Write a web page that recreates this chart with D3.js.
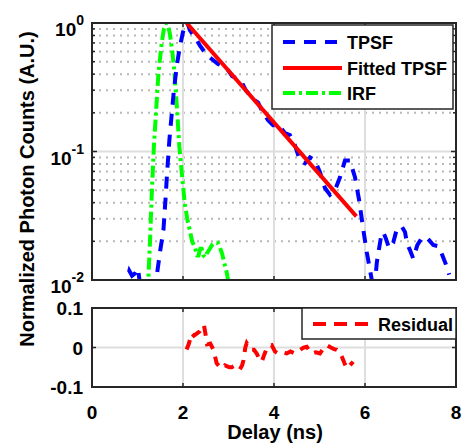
<!DOCTYPE html>
<html><head><meta charset="utf-8">
<script src="https://cdn.jsdelivr.net/npm/d3@7"></script>
<style>
html,body{margin:0;padding:0;background:#fff;}
text{font-family:"Liberation Sans",Arial,Helvetica,sans-serif;fill:#000;}
</style></head>
<body>
<svg id="c" width="463" height="443"></svg>
<script>
// ---- data ----
const tpsfT = [0.72,0.76,0.82,0.88,0.95,1.01,1.06,1.15,1.30,1.40,1.44,1.50,1.57,1.62,1.65,1.70,1.75,1.80,1.86,1.93,2.00,2.06,2.10,2.15,2.28,2.37,2.48,2.59,2.77,2.88,2.99,3.08,3.19,3.30,3.38,3.52,3.65,3.76,3.87,3.98,4.11,4.24,4.35,4.46,4.57,4.68,4.79,4.90,5.01,5.12,5.23,5.34,5.45,5.56,5.67,5.78,5.87,5.96,6.04,6.13,6.20,6.26,6.35,6.40,6.46,6.53,6.62,6.70,6.81,6.88,6.92,6.99,7.06,7.15,7.24,7.32,7.41,7.50,7.61,7.70,7.79,7.85];
const tpsfV = [0.008,0.0098,0.0118,0.0108,0.0113,0.0123,0.0090,0.007,0.007,0.0095,0.0119,0.017,0.0244,0.045,0.068,0.122,0.192,0.30,0.456,0.653,0.85,0.98,1.0,0.88,0.76,0.67,0.59,0.54,0.48,0.46,0.43,0.386,0.37,0.34,0.30,0.26,0.24,0.20,0.175,0.16,0.16,0.139,0.134,0.112,0.085,0.081,0.09,0.085,0.069,0.052,0.046,0.05,0.063,0.085,0.085,0.063,0.042,0.025,0.0164,0.0109,0.008,0.0137,0.0215,0.0236,0.021,0.0177,0.0195,0.025,0.026,0.0236,0.0194,0.017,0.0147,0.0187,0.021,0.0217,0.0204,0.0187,0.0183,0.0156,0.0129,0.011];
const fitT = [2.08, 5.81];
const fitV = [1.0, 0.0313];
const irfT = [1.20,1.24,1.28,1.31,1.36,1.41,1.46,1.53,1.58,1.63,1.67,1.71,1.76,1.80,1.84,1.87,1.92,1.97,2.04,2.10,2.15,2.20,2.26,2.31,2.34,2.38,2.41,2.45,2.49,2.52,2.59,2.65,2.70,2.76,2.81,2.86,2.92,2.96,3.00,3.03];
const irfV = [0.008,0.0105,0.022,0.044,0.109,0.21,0.405,0.69,0.9,1.0,0.95,0.83,0.62,0.456,0.3,0.21,0.109,0.07,0.039,0.029,0.0244,0.02,0.018,0.0155,0.0155,0.0175,0.0175,0.0155,0.015,0.016,0.0175,0.019,0.0195,0.0195,0.018,0.016,0.013,0.0115,0.0095,0.008];
const resT = [2.08,2.13,2.19,2.24,2.30,2.36,2.41,2.46,2.50,2.53,2.60,2.67,2.74,2.80,2.85,2.92,2.96,3.02,3.07,3.15,3.25,3.30,3.33,3.37,3.40,3.46,3.51,3.56,3.62,3.68,3.73,3.78,3.84,3.90,3.95,4.02,4.09,4.18,4.28,4.36,4.46,4.52,4.57,4.65,4.72,4.78,4.83,4.92,5.01,5.09,5.16,5.25,5.32,5.38,5.44,5.49,5.55,5.60,5.67,5.74];
const resV = [-0.005,0.01,0.036,0.03,0.035,0.04,0.049,0.057,0.03,0.008,0.01,-0.006,-0.04,-0.048,-0.053,-0.045,-0.047,-0.05,-0.05,-0.045,-0.055,-0.045,-0.032,0.0,0.011,0.0,-0.006,-0.006,-0.015,-0.03,-0.036,-0.02,-0.002,0.004,0.006,-0.01,-0.015,-0.012,-0.015,-0.01,-0.015,-0.01,-0.006,0.0,0.002,-0.008,-0.015,-0.012,-0.015,-0.002,0.006,0.0,-0.004,-0.006,-0.012,-0.023,-0.04,-0.053,-0.045,-0.036];
const xTicks = [0,2,4,6,8];
const yTopTicks = [1,0.1,0.01];
const yTopExp = ["0","-1","-2"];
const yBotTicks = [0.1,0,-0.1];
const yBotLabels = ["0.1","0","-0.1"];
const legendTop = ["TPSF","Fitted TPSF","IRF"];
const legendBot = ["Residual"];

// ---- layout ----
const svg = d3.select("#c");
const L = 92, R = 456;
const T1 = 23, B1 = 280, T2 = 308, B2 = 387;
const x = d3.scaleLinear().domain([0,8]).range([L,R]);
const y1 = d3.scaleLog().domain([0.01,1]).range([B1,T1]);
const y2 = d3.scaleLinear().domain([-0.1,0.1]).range([B2,T2]);
const frame = "#262626";

const defs = svg.append("defs");
defs.append("clipPath").attr("id","cp1").append("rect").attr("x",L).attr("y",T1).attr("width",R-L).attr("height",B1-T1);
defs.append("clipPath").attr("id","cp2").append("rect").attr("x",L).attr("y",T2).attr("width",R-L).attr("height",B2-T2);

// ---- top panel grid ----
const g1 = svg.append("g");
const minor = [];
[0.01,0.1].forEach(d=>{ for(let k=2;k<=9;k++) minor.push(d*k); });
g1.selectAll(".mg").data(minor).enter().append("line")
  .attr("x1",L).attr("x2",R).attr("y1",d=>y1(d)).attr("y2",d=>y1(d))
  .attr("stroke","#b8b8b8").attr("stroke-width",2).attr("stroke-dasharray","2,5");
g1.selectAll(".vg").data([2,4,6]).enter().append("line")
  .attr("x1",d=>x(d)).attr("x2",d=>x(d)).attr("y1",T1).attr("y2",B1)
  .attr("stroke","#dedede").attr("stroke-width",2);
g1.append("line").attr("x1",L).attr("x2",R).attr("y1",y1(0.1)).attr("y2",y1(0.1))
  .attr("stroke","#dedede").attr("stroke-width",2);

// ---- bottom panel grid ----
const g2 = svg.append("g");
g2.selectAll(".vg").data([2,4,6]).enter().append("line")
  .attr("x1",d=>x(d)).attr("x2",d=>x(d)).attr("y1",T2).attr("y2",B2)
  .attr("stroke","#dedede").attr("stroke-width",2);
g2.append("line").attr("x1",L).attr("x2",R).attr("y1",y2(0)).attr("y2",y2(0))
  .attr("stroke","#dedede").attr("stroke-width",2);

// ---- lines ----
const line1 = d3.line().x(d=>x(d[0])).y(d=>y1(d[1]));
const line2 = d3.line().x(d=>x(d[0])).y(d=>y2(d[1]));
const zip = (a,b)=>a.map((v,i)=>[v,b[i]]);
const pl1 = svg.append("g").attr("clip-path","url(#cp1)");
pl1.append("path").attr("d",line1(zip(irfT,irfV))).attr("fill","none")
  .attr("stroke","#00ff00").attr("stroke-width",4).attr("stroke-dasharray","12,4,3,4");
pl1.append("path").attr("d",line1(zip(tpsfT,tpsfV))).attr("fill","none")
  .attr("stroke","#0000ff").attr("stroke-width",4).attr("stroke-dasharray","12,9");
pl1.append("path").attr("d",line1(zip(fitT,fitV))).attr("fill","none")
  .attr("stroke","#ff0000").attr("stroke-width",4);
const pl2 = svg.append("g").attr("clip-path","url(#cp2)");
pl2.append("path").attr("d",line2(zip(resT,resV))).attr("fill","none")
  .attr("stroke","#ff0000").attr("stroke-width",4).attr("stroke-dasharray","10,8");

// ---- ticks / frames ----
function frameBox(T,B){
  svg.append("rect").attr("x",L).attr("y",T).attr("width",R-L).attr("height",B-T)
    .attr("fill","none").attr("stroke",frame).attr("stroke-width",2);
}
frameBox(T1,B1); frameBox(T2,B2);
const tk = svg.append("g").attr("stroke",frame).attr("stroke-width",1.5);
[[T1,B1],[T2,B2]].forEach(([T,B])=>{
  xTicks.slice(1,-1).forEach(d=>{
    tk.append("line").attr("x1",x(d)).attr("x2",x(d)).attr("y1",B).attr("y2",B-4);
    tk.append("line").attr("x1",x(d)).attr("x2",x(d)).attr("y1",T).attr("y2",T+4);
  });
});
minor.concat([0.1]).forEach(d=>{
  const len = d===0.1?5:3;
  tk.append("line").attr("x1",L).attr("x2",L+len).attr("y1",y1(d)).attr("y2",y1(d));
  tk.append("line").attr("x1",R).attr("x2",R-len).attr("y1",y1(d)).attr("y2",y1(d));
});
tk.append("line").attr("x1",L).attr("x2",L+4).attr("y1",y2(0)).attr("y2",y2(0));
tk.append("line").attr("x1",R).attr("x2",R-4).attr("y1",y2(0)).attr("y2",y2(0));

// ---- tick labels ----
const fs = 19;
svg.selectAll(".xl").data(xTicks).enter().append("text")
  .attr("x",d=>x(d)).attr("y",419).attr("text-anchor","middle")
  .attr("font-size",fs).attr("font-weight","bold").text(d=>d);
yTopTicks.forEach((d,i)=>{
  const t = svg.append("text").attr("x",84).attr("y",y1(d)+13).attr("text-anchor","end")
    .attr("font-size",fs).attr("font-weight","bold");
  t.append("tspan").text("10");
  t.append("tspan").attr("dy",-11).attr("font-size",14).text(yTopExp[i]);
});
yBotTicks.forEach((d,i)=>{
  svg.append("text").attr("x",83).attr("y",y2(d)+7).attr("text-anchor","end")
    .attr("font-size",fs).attr("font-weight","bold").text(yBotLabels[i]);
});

// ---- axis labels ----
svg.append("text").attr("x",275).attr("y",439).attr("text-anchor","middle")
  .attr("font-size",20).attr("font-weight","bold").text("Delay (ns)");
svg.append("text").attr("transform","translate(34,189) rotate(-90)").attr("text-anchor","middle")
  .attr("font-size",20).attr("font-weight","bold").text("Normalized Photon Counts (A.U.)");

// ---- legends ----
const lg = svg.append("g");
lg.append("rect").attr("x",272).attr("y",25).attr("width",181).attr("height",84)
  .attr("fill","#fff").attr("stroke",frame).attr("stroke-width",1.5);
const styles = [
  {c:"#0000ff",da:"12,9"},
  {c:"#ff0000",da:null},
  {c:"#00ff00",da:"12,4,3,4"}
];
const ly = [42,68,93];
legendTop.forEach((s,i)=>{
  const l = lg.append("line").attr("x1",283).attr("x2",342).attr("y1",ly[i]).attr("y2",ly[i])
    .attr("stroke",styles[i].c).attr("stroke-width",4);
  if(styles[i].da) l.attr("stroke-dasharray",styles[i].da);
  lg.append("text").attr("x",347).attr("y",ly[i]+7).attr("font-size",18).attr("font-weight","bold").text(s);
});
lg.append("rect").attr("x",302).attr("y",T2).attr("width",R-302).attr("height",31)
  .attr("fill","#fff").attr("stroke",frame).attr("stroke-width",1.5);
lg.append("line").attr("x1",313).attr("x2",372).attr("y1",324).attr("y2",324)
  .attr("stroke","#ff0000").attr("stroke-width",4).attr("stroke-dasharray","13,8");
lg.append("text").attr("x",378).attr("y",331).attr("font-size",18).attr("font-weight","bold").text(legendBot[0]);
</script>
</body></html>
